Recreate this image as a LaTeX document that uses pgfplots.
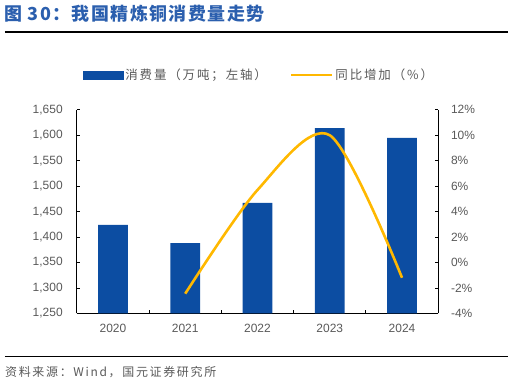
\documentclass[border=0pt]{standalone}
\usepackage{pgfplots}
\pgfplotsset{compat=1.18}
\usepackage{fontspec}
\setmainfont{Liberation Sans}
\newfontfamily\cjk{Noto Sans CJK SC}
\newfontfamily\cjkT[LetterSpace=8]{Noto Sans CJK SC}
\newfontfamily\cjkL[LetterSpace=15]{Noto Sans CJK SC}
\newfontfamily\cjkS[LetterSpace=14]{Noto Sans CJK SC}
\definecolor{barblue}{HTML}{0C4DA2}
\definecolor{linegold}{HTML}{FFB800}
\definecolor{titleblue}{HTML}{2B5FAE}
\definecolor{txtgray}{HTML}{595959}
\begin{document}
\begin{tikzpicture}[x=1bp,y=1bp]
\path (0,0) rectangle (509,387);
\node[anchor=west, inner sep=0, text=titleblue, font=\cjkT\bfseries\fontsize{18bp}{18bp}\selectfont] at (4,373) {图 30：我国精炼铜消费量走势};
\draw[line width=2bp] (5,355) -- (509,355);
\draw[line width=1.5bp] (5,30) -- (509,30);
\node[anchor=west, inner sep=0, text=txtgray, font=\cjkS\fontsize{12bp}{12bp}\selectfont] at (5,14) {资料来源：Wind，国元证券研究所};
\begin{axis}[
 at={(77bp,73bp)}, anchor=south west, scale only axis, width=362bp, height=204bp,
 xmin=-0.5, xmax=4.5, ymin=1250, ymax=1650,
 axis x line*=bottom, axis y line*=left,
 xtick={0,...,4}, xticklabels={2020,2021,2022,2023,2024},
 major x tick style={draw=none},
 minor xtick={0.5,1.5,2.5,3.5},
 ytick={1250,1300,...,1650},
 tick align=inside, major tick length=3bp, minor tick length=3bp,
 tick style={black, line width=0.8bp},
 axis line style={black, line width=0.9bp},
 ticklabel style={text=txtgray, font=\fontsize{12bp}{12bp}\selectfont},
 yticklabel style={inner sep=0pt, xshift=-14bp},
 xticklabel style={inner sep=0pt, yshift=-11bp},
 /pgf/number format/assume math mode=true,
 /pgf/number format/1000 sep={,},
]
\addplot[ybar, bar width=30bp, fill=barblue, draw=none] coordinates {(0,1424) (1,1388) (2,1467) (3,1614) (4,1595)};
\end{axis}
\begin{axis}[
 at={(77bp,73bp)}, anchor=south west, scale only axis, width=362bp, height=204bp,
 xmin=-0.5, xmax=4.5, ymin=-4, ymax=12,
 axis x line=none, axis y line*=right,
 ytick={-4,-2,...,12},
 yticklabel={\pgfmathprintnumber{\tick}\%},
 tick align=inside, major tick length=3bp,
 tick style={black, line width=0.8bp},
 axis line style={black, line width=0.9bp},
 ticklabel style={text=txtgray, font=\fontsize{12bp}{12bp}\selectfont},
 yticklabel style={inner sep=0pt, xshift=12.7bp},
 /pgf/number format/assume math mode=true,
 legend columns=2,
 legend cell align=left,
 legend style={draw=none, fill=none, at={(0.0166,1.1716)}, anchor=west, inner sep=0pt,
   font=\cjkL\fontsize{12.5bp}{12.5bp}\selectfont, text=txtgray,
   /tikz/every even column/.append style={column sep=21bp}},
]
\addlegendimage{legend image code/.code={\fill[barblue] (0bp,-4bp) rectangle (40bp,4bp);}}
\addlegendentry{消费量（万吨；左轴）}
\addplot[linegold, line width=2.6bp, smooth, legend image code/.code={\draw[linegold, line width=2.6bp] (0bp,0bp) -- (41bp,0bp);}] coordinates {(1,-2.45) (2,5.7) (3,10.0) (4,-1.2)};
\addlegendentry{同比增加（\%）}
\end{axis}
\end{tikzpicture}
\end{document}
